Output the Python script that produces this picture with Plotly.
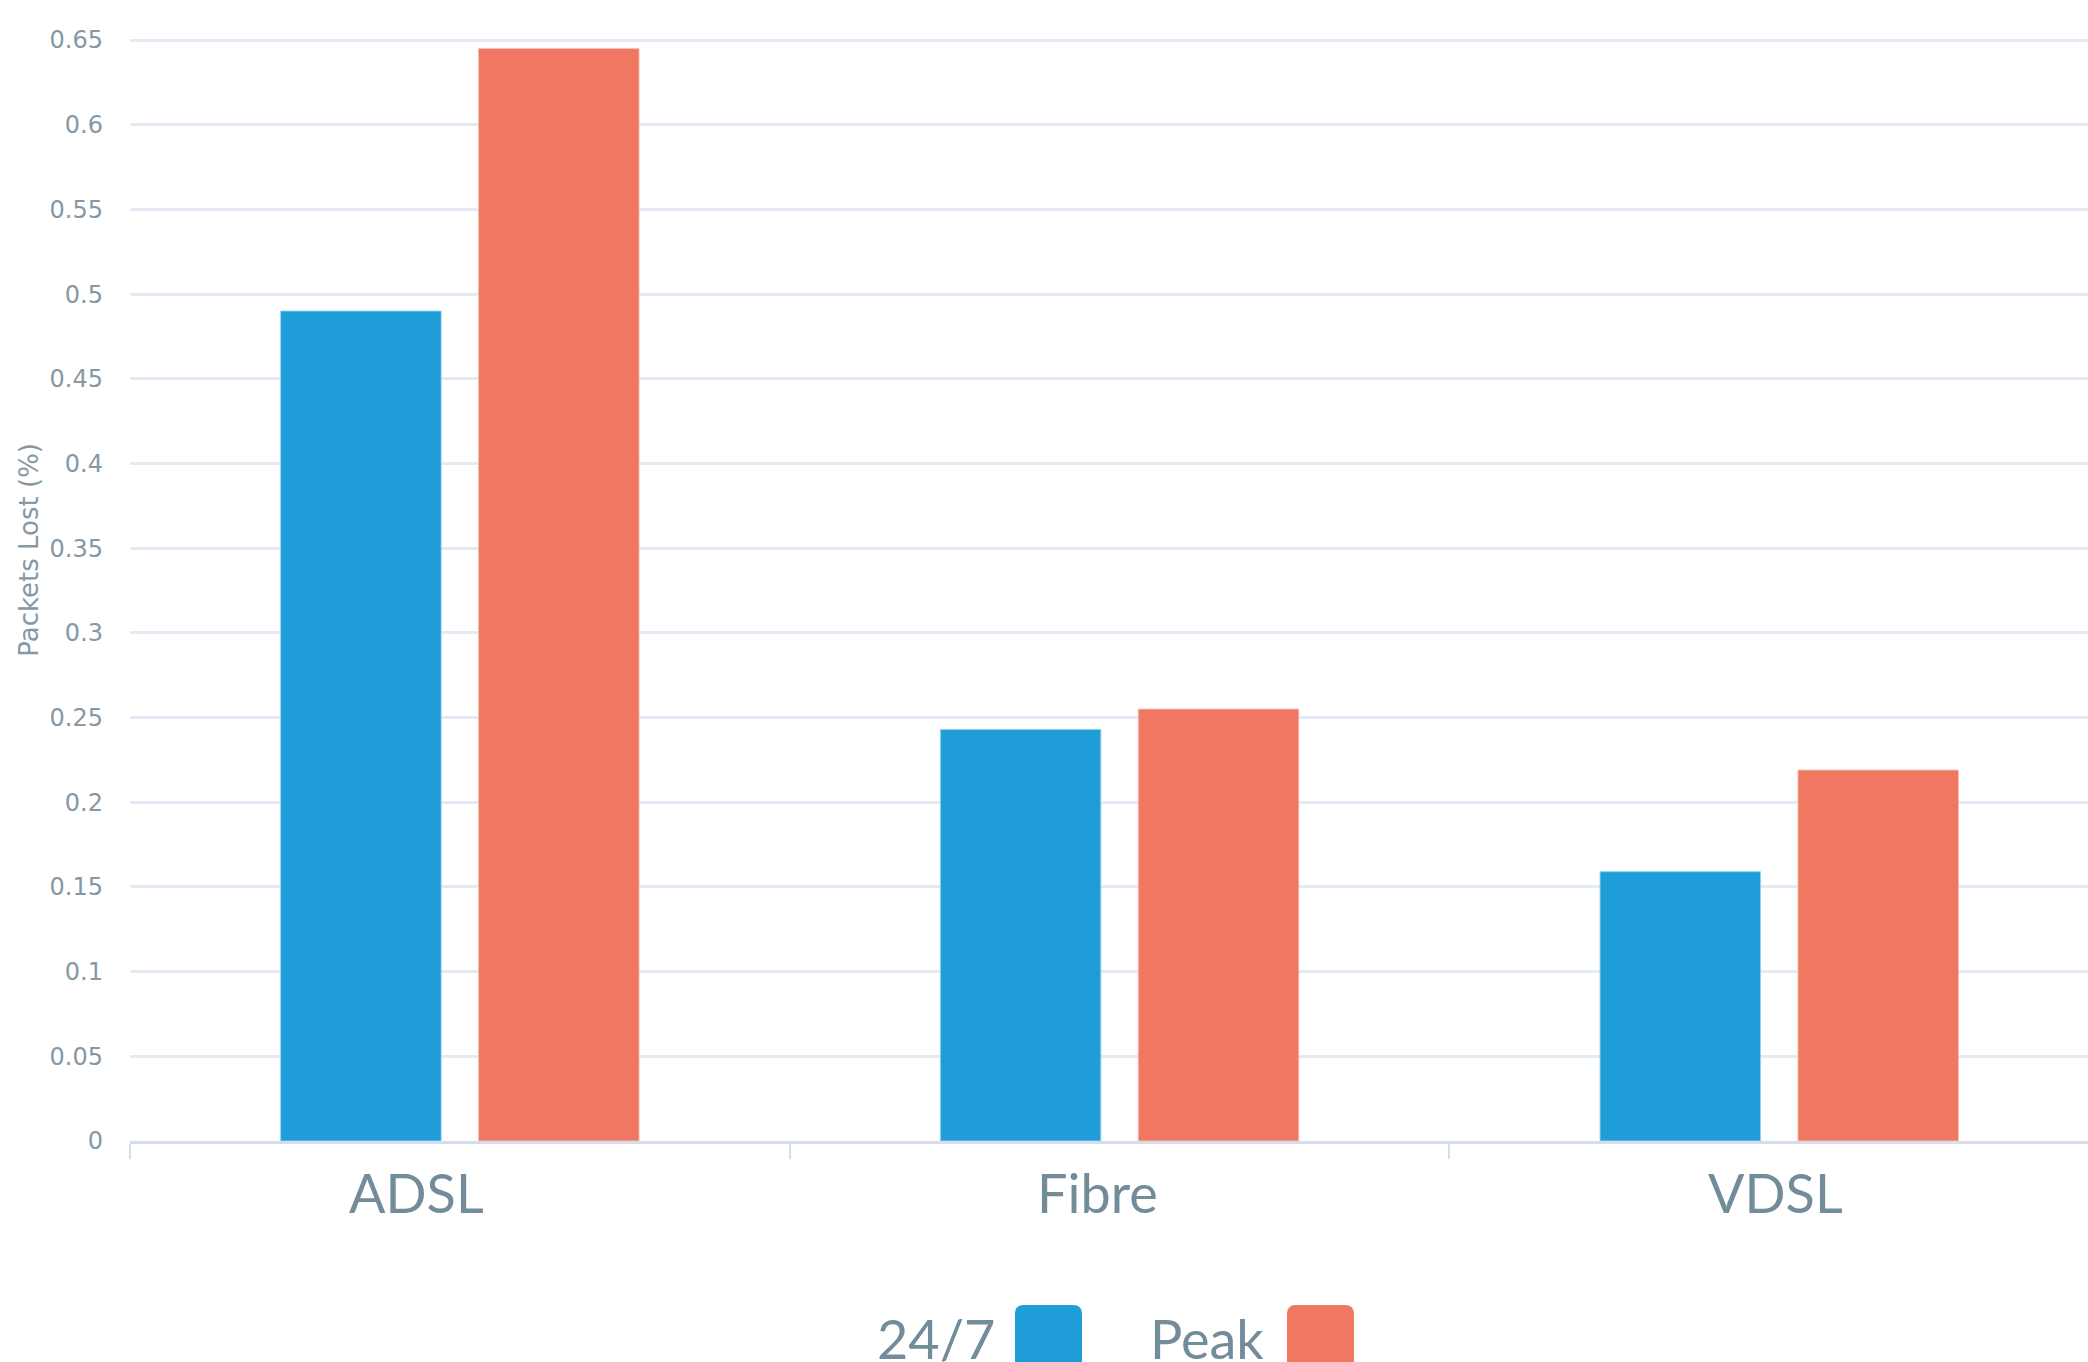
import plotly.graph_objects as go

# Packet loss by connection type
categories = ["ADSL", "Fibre", "VDSL"]
series_names = ["24/7", "Peak"]
loss_247 = [0.49, 0.243, 0.159]
loss_peak = [0.645, 0.255, 0.219]
y_ticks = [0, 0.05, 0.1, 0.15, 0.2, 0.25, 0.3, 0.35, 0.4, 0.45, 0.5, 0.55, 0.6, 0.65]

BLUE = "#1E9DD9"
RED = "#F07762"
LABEL = "#728C9A"
TICK = "#8698A5"
GRID = "#E4E9F4"
AXIS = "#D6DDEC"

W, H = 2088, 1362
ML, MR, MT, MB = 130, 0, 38, 221

fig = go.Figure()
for name, vals, col, edge in [
    (series_names[0], loss_247, BLUE, "rgba(150,210,240,0.9)"),
    (series_names[1], loss_peak, RED, "rgba(250,190,180,0.9)"),
]:
    fig.add_trace(go.Bar(
        x=categories, y=vals, name=name,
        marker=dict(color=col, line=dict(color=edge, width=1)),
        showlegend=False,
    ))

# category labels under the axis
label_shift = [-43, -22, -4]
annotations = []
for cat, dx in zip(categories, label_shift):
    annotations.append(dict(
        x=cat, xref="x", y=-0.047, yref="paper", yanchor="middle",
        text=cat, showarrow=False, xshift=dx,
        font=dict(family="Lato", size=54, color=LABEL),
    ))

# y-axis title
annotations.append(dict(
    x=0, xref="paper", xshift=-101, y=0.536, yref="paper",
    text="Packets Lost (%)", textangle=-90, showarrow=False,
    xanchor="center", yanchor="middle",
    font=dict(family="DejaVu Sans", size=26, color=TICK),
))


def rounded_rect(x0, x1, h, r):
    y0, y1 = -h / 2, h / 2
    return (f"M {x0 + r},{y0} L {x1 - r},{y0} Q {x1},{y0} {x1},{y0 + r} "
            f"L {x1},{y1 - r} Q {x1},{y1} {x1 - r},{y1} "
            f"L {x0 + r},{y1} Q {x0},{y1} {x0},{y1 - r} "
            f"L {x0},{y0 + r} Q {x0},{y0} {x0 + r},{y0} Z")


# legend: text followed by a rounded swatch
legend_y = -0.179
text_centers = [806, 1077]
swatch_left = [885, 1157]
swatch = 67
shapes = []
for name, col, tc, sl in zip(series_names, [BLUE, RED], text_centers, swatch_left):
    annotations.append(dict(
        x=0, xref="paper", xshift=tc, y=legend_y, yref="paper",
        xanchor="center", yanchor="middle", text=name, showarrow=False,
        font=dict(family="Lato", size=54, color=LABEL),
    ))
    shapes.append(dict(
        type="path", xref="paper", yref="paper",
        xsizemode="pixel", ysizemode="pixel",
        xanchor=0, yanchor=legend_y,
        path=rounded_rect(sl, sl + swatch, swatch, 9),
        fillcolor=col, line=dict(width=0),
    ))

fig.update_layout(
    width=W, height=H,
    margin=dict(l=ML, r=MR, t=MT, b=MB, pad=0),
    paper_bgcolor="white", plot_bgcolor="white",
    barmode="group", bargap=0.4, bargroupgap=0.189,
    annotations=annotations, shapes=shapes,
    showlegend=False,
    xaxis=dict(
        type="category", range=[-0.5, 2.468],
        showline=True, linecolor=AXIS, linewidth=3,
        ticks="outside", tickson="boundaries", ticklen=15,
        tickwidth=2, tickcolor=AXIS,
        showticklabels=False, showgrid=False, zeroline=False,
    ),
    yaxis=dict(
        range=[0, 0.6512], tickvals=y_ticks,
        ticktext=[f"{v:g}" for v in y_ticks],
        showgrid=True, gridcolor=GRID, gridwidth=3,
        zeroline=False, showline=False,
        ticks="", ticklabelstandoff=26,
        tickfont=dict(family="DejaVu Sans", size=24, color=TICK),
    ),
)

fig.write_html("out.html")
